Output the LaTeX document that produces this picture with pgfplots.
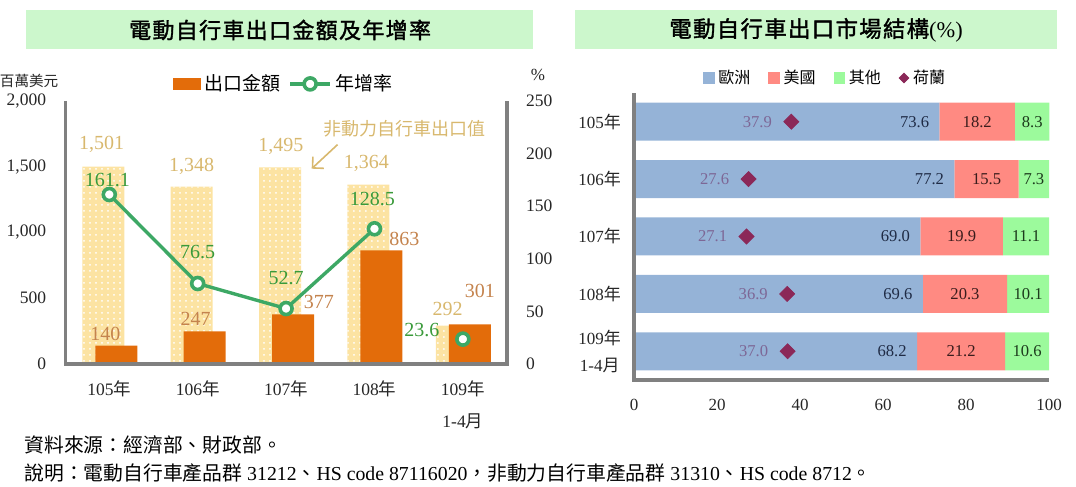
\documentclass[border=0pt]{standalone}
\usepackage{fontspec}
\setmainfont{Liberation Serif}
\newfontfamily\cjk{Noto Sans CJK TC}
\newfontfamily\cjkt[LetterSpace=6, FakeBold=1.5]{Noto Sans CJK TC}
\usepackage{pgfplots}
\pgfplotsset{compat=1.18}
\usepackage{pgfplotstable}
\usetikzlibrary{patterns,arrows.meta}
\pgfplotsset{/pgf/number format/assume math mode=true}

\definecolor{titlebg}{HTML}{CCF7CC}
\definecolor{axisgray}{HTML}{808080}
\definecolor{barorange}{HTML}{E36C0A}
\definecolor{baryellow}{HTML}{FCE3A2}
\definecolor{linegreen}{HTML}{3DA865}
\definecolor{lblgreen}{HTML}{3A9A3A}
\definecolor{lblorange}{HTML}{C4834D}
\definecolor{lblgold}{HTML}{D8B86E}
\definecolor{eu}{HTML}{95B3D7}
\definecolor{us}{HTML}{FF8A82}
\definecolor{ot}{HTML}{9CFA9C}
\definecolor{nl}{HTML}{8B2858}
\definecolor{lbleu}{HTML}{1F2B45}
\definecolor{lblus}{HTML}{3A1C1C}
\definecolor{lblot}{HTML}{1C3A1C}
\definecolor{lblnl}{HTML}{7D6796}
\definecolor{ticktext}{HTML}{262626}

% left chart: x, non-powered bicycles (bg), e-bike exports (fg), growth % (gr),
% label offsets in px from the category centre / marker
\pgfplotstableread{
x bg fg gr bgdx bgdy fgdx fgdy grdx grdy
0 1501 140 161.1 -7.6 22 -4 12 -2 14
1 1348 247 76.5 -6 20 -2 12.5 0 31
2 1495 377 52.7 -5.2 21 32.7 12 0 31
3 1364 863 128.5 -8 21 30 11.5 -2 30
4 292 301 23.6 -15.3 17 17 33 -41 9
}\leftdata

% right chart: market structure (%)
\pgfplotstableread{
pos eu us ot nl
0 73.6 18.2 8.3 37.9
1 77.2 15.5 7.3 27.6
2 69.0 19.9 11.1 27.1
3 69.6 20.3 10.1 36.9
4 68.2 21.2 10.6 37.0
}\rightdata

\begin{document}
\begin{tikzpicture}
\begin{scope}[x=0.5pt,y=-0.5pt]
\useasboundingbox (0,0) rectangle (1076,487);
\fill[titlebg] (26,10) rectangle (533,49);
\fill[titlebg] (575,10) rectangle (1057,49);
\node[font=\cjkt\fontsize{11}{13}\selectfont] at (280,30) {電動自行車出口金額及年增率};
\node[font=\fontsize{11.2}{13}\selectfont] at (816,30) {{\cjkt 電動自行車出口市場結構}(\%)};
\node[font=\cjk\fontsize{7.3}{9}\selectfont, text=ticktext] at (29,81) {百萬美元};
\node[font=\fontsize{8.5}{10}\selectfont, text=ticktext] at (538,75) {\%};
\node[font=\cjk\fontsize{9}{11}\selectfont, text=lblgold] at (404.6,129) {非動力自行車出口值};
\draw[lblgold, line width=0.8pt, -{Straight Barb[length=4pt]}] (337.5,144.6) -- (311.6,168.7);
\node[anchor=west, font=\fontsize{9.9}{11}\selectfont, inner sep=0pt] at (24,445) {{\cjk 資料來源：經濟部、財政部。}};
\node[anchor=west, font=\fontsize{9.9}{11}\selectfont, inner sep=0pt] at (24,473) {{\cjk 說明：電動自行車產品群} 31212{\cjk 、}HS code 87116020{\cjk ，非動力自行車產品群} 31310{\cjk 、}HS code 8712{\cjk 。}};
\end{scope}

% ---------- left chart: bars ----------
\begin{axis}[
  at={(32.5pt,-182pt)}, anchor=south west, scale only axis,
  width=221pt, height=131.5pt,
  xmin=-0.5, xmax=4.5, ymin=0, ymax=2000, clip=false,
  axis line style={draw=none}, major tick length=0pt,
  xtick={0,1,2,3,4},
  xticklabels={105{\cjk 年},106{\cjk 年},107{\cjk 年},108{\cjk 年},{109{\cjk 年}\\[5.5pt]1-4{\cjk 月}}},
  xticklabel style={font=\fontsize{8.75}{10.5}\selectfont, align=center, anchor=north, yshift=-5pt, text=ticktext},
  ytick={0,500,1000,1500,2000}, ytick pos=left, xtick pos=bottom,
  yticklabel style={font=\fontsize{8.75}{10.5}\selectfont, xshift=-6pt, text=ticktext},
  scaled y ticks=false,
  /pgf/number format/1000 sep={,},
  legend columns=2,
  legend cell align=left,
  legend style={at={(0.497,1.065)}, anchor=center, draw=none, fill=none,
    font=\cjk\fontsize{9.5}{10}\selectfont,
    /tikz/every even column/.append style={column sep=2pt}},
]
\addplot[ybar, bar width=21pt, bar shift=-3pt, fill=baryellow, draw=none,
  postaction={pattern=dots, pattern color=white}, forget plot,
  point meta=y,
  visualization depends on={\thisrow{bgdx} \as \ldx},
  visualization depends on={\thisrow{bgdy} \as \ldy},
  nodes near coords={\pgfmathprintnumber{\pgfplotspointmeta}},
  nodes near coords style={anchor=center, inner sep=0pt, text=lblgold,
    font=\fontsize{10}{12}\selectfont, xshift={\ldx*0.5pt}, yshift={\ldy*0.5pt}}]
  table[x=x, y=bg] \leftdata;
\addplot[ybar, bar width=21pt, bar shift=3.5pt, fill=barorange, draw=none, forget plot,
  point meta=y,
  visualization depends on={\thisrow{fgdx} \as \ldx},
  visualization depends on={\thisrow{fgdy} \as \ldy},
  nodes near coords={\pgfmathprintnumber{\pgfplotspointmeta}},
  nodes near coords style={anchor=center, inner sep=0pt, text=lblorange,
    font=\fontsize{10}{12}\selectfont, xshift={\ldx*0.5pt}, yshift={\ldy*0.5pt}}]
  table[x=x, y=fg] \leftdata;
\addlegendimage{legend image code/.code={\fill[barorange] (0pt,-2.6pt) rectangle (13.5pt,2.6pt);}}
\addlegendentry{出口金額}
\addlegendimage{legend image code/.code={\draw[linegreen, line width=1.7pt, mark=*, mark size=3pt, mark repeat=2, mark phase=2, mark options={fill=white, draw=linegreen, line width=1.8pt}] plot coordinates {(0pt,0pt) (10pt,0pt) (20pt,0pt)};}}
\addlegendentry{年增率}
\end{axis}

% ---------- left chart: growth line (secondary axis) ----------
\begin{axis}[
  at={(32.5pt,-182pt)}, anchor=south west, scale only axis,
  width=221pt, height=131.5pt,
  xmin=-0.5, xmax=4.5, ymin=0, ymax=250, clip=false,
  axis line style={draw=none}, major tick length=0pt,
  xtick=\empty,
  ytick={0,50,100,150,200,250}, ytick pos=right, yticklabel pos=right,
  yticklabel style={font=\fontsize{8.75}{10.5}\selectfont, xshift=6pt, text=ticktext},
  growth/.style={linegreen, line width=1.7pt, mark=*, mark size=3pt, forget plot,
    mark options={fill=white, draw=linegreen, line width=1.8pt},
    point meta=y,
    visualization depends on={\thisrow{grdx} \as \ldx},
    visualization depends on={\thisrow{grdy} \as \ldy},
    nodes near coords={\pgfmathprintnumber[fixed,fixed zerofill,precision=1]{\pgfplotspointmeta}},
    nodes near coords style={anchor=center, inner sep=0pt, text=lblgreen,
      font=\fontsize{10}{12}\selectfont, xshift={\ldx*0.5pt}, yshift={\ldy*0.5pt}}},
]
\draw[axisgray, line width=1.6pt] (axis description cs:0,1) -- (axis description cs:0,0) -- (axis description cs:1,0) -- (axis description cs:1,1);
% full years 105-108 joined by a line
\addplot[growth, restrict x to domain=0:3] table[x=x, y=gr] \leftdata;
% 109 (Jan-Apr) shown on its own
\addplot[growth, only marks, restrict x to domain=3.5:4.5] table[x=x, y=gr] \leftdata;
\end{axis}

% ---------- right chart: stacked bars ----------
\begin{axis}[
  at={(317pt,-190pt)}, anchor=south west, scale only axis,
  width=207.5pt, height=143.5pt,
  xbar stacked, bar width=19pt,
  xmin=0, xmax=100, ymin=-0.5, ymax=4.5, y dir=reverse, clip=false,
  axis line style={draw=none}, major tick length=0pt,
  ytick={0,1,2,3,4},
  yticklabels={105{\cjk 年},106{\cjk 年},107{\cjk 年},108{\cjk 年},{109{\cjk 年}\\[3.5pt]1-4{\cjk 月}}},
  yticklabel style={font=\fontsize{8.5}{10}\selectfont, align=center, xshift=-3pt, text=ticktext},
  xtick={0,20,40,60,80,100}, ytick pos=left, xtick pos=bottom,
  xticklabel style={font=\fontsize{8.5}{10}\selectfont, yshift=-6pt, text=ticktext},
]
\draw[axisgray, line width=1.6pt] (axis description cs:0,1) -- (axis description cs:0,0) -- (axis description cs:1,0);
\addplot[fill=eu, draw=none, point meta=explicit, forget plot,
  visualization depends on={\thisrow{eu} \as \segw},
  nodes near coords={\pgfmathprintnumber[fixed,fixed zerofill,precision=1]{\pgfplotspointmeta}},
  nodes near coords style={anchor=east, inner sep=0pt, xshift={\segw*1.0375pt-5pt}, text=lbleu, font=\fontsize{8.3}{10}\selectfont}]
  table[x=eu, y=pos, meta=eu] \rightdata;
\addplot[fill=us, draw=none, point meta=explicit, forget plot,
  nodes near coords={\pgfmathprintnumber[fixed,fixed zerofill,precision=1]{\pgfplotspointmeta}},
  nodes near coords style={anchor=center, inner sep=0pt, text=lblus, font=\fontsize{8.3}{10}\selectfont}]
  table[x=us, y=pos, meta=us] \rightdata;
\addplot[fill=ot, draw=none, point meta=explicit, forget plot,
  nodes near coords={\pgfmathprintnumber[fixed,fixed zerofill,precision=1]{\pgfplotspointmeta}},
  nodes near coords style={anchor=center, inner sep=0pt, text=lblot, font=\fontsize{8.3}{10}\selectfont}]
  table[x=ot, y=pos, meta=ot] \rightdata;
\end{axis}

% ---------- right chart: Netherlands diamonds ----------
\begin{axis}[
  at={(317pt,-190pt)}, anchor=south west, scale only axis,
  width=207.5pt, height=143.5pt,
  xmin=0, xmax=100, ymin=-0.5, ymax=4.5, y dir=reverse, clip=false,
  hide axis,
  legend columns=4,
  legend cell align=left,
  legend style={at={(0.463,1.052)}, anchor=center, draw=none, fill=none,
    font=\cjk\fontsize{8}{9}\selectfont,
    /tikz/every even column/.append style={column sep=7pt}},
]
\addlegendimage{legend image code/.code={\fill[eu] (0pt,-2.6pt) rectangle (5.2pt,2.6pt);}}
\addlegendentry{歐洲}
\addlegendimage{legend image code/.code={\fill[us] (0pt,-2.6pt) rectangle (5.2pt,2.6pt);}}
\addlegendentry{美國}
\addlegendimage{legend image code/.code={\fill[ot] (0pt,-2.6pt) rectangle (5.2pt,2.6pt);}}
\addlegendentry{其他}
\addlegendimage{legend image code/.code={\fill[nl] (2.4pt,-2.4pt) -- (4.8pt,0pt) -- (2.4pt,2.4pt) -- (0pt,0pt) -- cycle;}}
\addlegendentry{荷蘭}
\addplot[only marks, mark=square*, mark size=2.65pt, forget plot,
  mark options={rotate=45, fill=nl, draw=nl},
  point meta=explicit,
  nodes near coords={\pgfmathprintnumber[fixed,fixed zerofill,precision=1]{\pgfplotspointmeta}},
  nodes near coords style={anchor=east, inner sep=0pt, xshift=-9.5pt, text=lblnl, font=\fontsize{8.3}{10}\selectfont}]
  table[x=nl, y=pos, meta=nl] \rightdata;
\end{axis}
\end{tikzpicture}
\end{document}
